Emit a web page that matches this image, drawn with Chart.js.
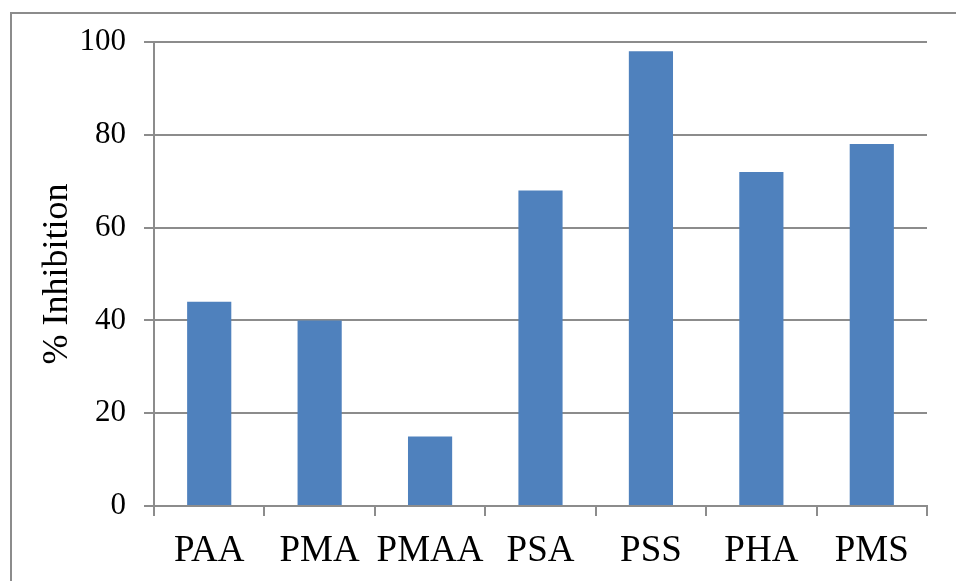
<!DOCTYPE html>
<html>
<head>
<meta charset="utf-8">
<script src="https://cdn.jsdelivr.net/npm/chart.js@4"></script>
<style>
  html, body { margin: 0; padding: 0; background: #fff; }
  canvas { display: block; }
</style>
</head>
<body>
<canvas id="c" width="956" height="581"></canvas>
<script>
const categories = ['PAA', 'PMA', 'PMAA', 'PSA', 'PSS', 'PHA', 'PMS'];
const inhibition = [44, 40, 15, 68, 98, 72, 78];
const yTicks = [0, 20, 40, 60, 80, 100];
const yTitle = '% Inhibition';

const frame = {
  id: 'frame',
  beforeDraw(chart) {
    const ctx = chart.ctx;
    ctx.save();
    ctx.fillStyle = '#ffffff';
    ctx.fillRect(0, 0, chart.width, chart.height);
    ctx.strokeStyle = '#8c8c8c';
    ctx.lineWidth = 2;
    ctx.beginPath();
    ctx.moveTo(11, chart.height);
    ctx.lineTo(11, 13);
    ctx.lineTo(chart.width, 13);
    ctx.stroke();
    ctx.restore();
  }
};

new Chart(document.getElementById('c'), {
  type: 'bar',
  data: {
    labels: categories,
    datasets: [{
      data: inhibition,
      backgroundColor: '#4F81BD',
      barPercentage: 0.4,
      categoryPercentage: 1.0
    }]
  },
  options: {
    responsive: false,
    animation: false,
    devicePixelRatio: 1,
    layout: { padding: { left: 0, right: 29, top: 42, bottom: 0 } },
    plugins: { legend: { display: false }, tooltip: { enabled: false } },
    scales: {
      x: {
        offset: true,
        afterFit(scale) { scale.height = 75; },
        grid: { drawOnChartArea: false, drawTicks: true, tickLength: 10, color: '#8c8c8c', lineWidth: 2 },
        border: { display: true, color: '#8c8c8c', width: 2 },
        ticks: {
          color: '#000', padding: 13, autoSkip: false, maxRotation: 0, minRotation: 0,
          font: { family: '"Liberation Serif", "Times New Roman", serif', size: 37 }
        }
      },
      y: {
        min: 0,
        max: 100,
        afterFit(scale) { scale.width = 154; },
        afterBuildTicks(scale) { scale.ticks = yTicks.map(v => ({ value: v })); },
        grid: { drawTicks: true, tickLength: 10, color: '#8c8c8c', lineWidth: 2 },
        border: { display: true, color: '#8c8c8c', width: 2 },
        ticks: { color: '#000', padding: 18, font: { family: '"Liberation Serif", "Times New Roman", serif', size: 31 } },
        title: {
          display: true,
          text: yTitle,
          color: '#000',
          padding: { top: 36, bottom: 0 },
          font: { family: '"Liberation Serif", "Times New Roman", serif', size: 36, weight: 'normal' }
        }
      }
    }
  },
  plugins: [frame]
});
</script>
</body>
</html>
